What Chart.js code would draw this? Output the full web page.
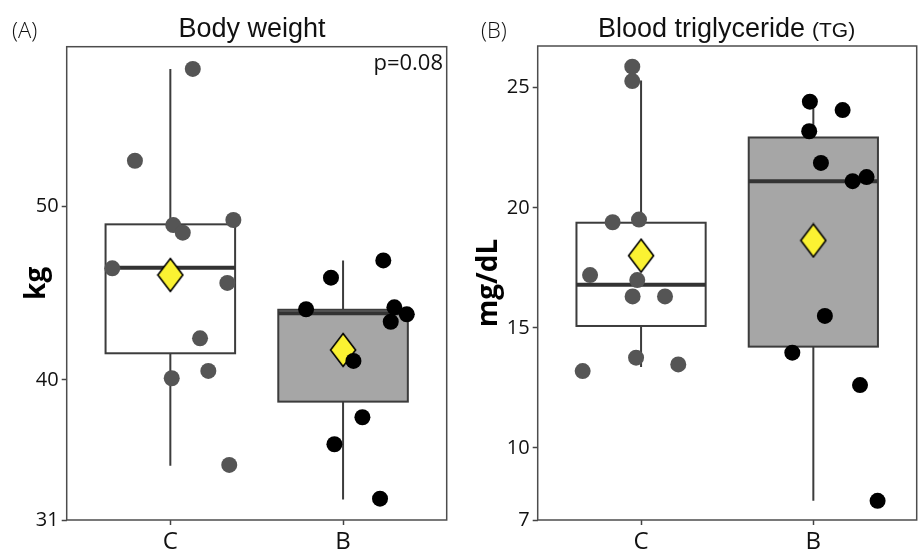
<!DOCTYPE html>
<html>
<head>
<meta charset="utf-8">
<script src="https://cdn.jsdelivr.net/npm/chart.js@4.4.1/dist/chart.umd.min.js"></script>
<style>
  body { margin: 0; background: #fff; }
  #wrap { position: relative; width: 920px; height: 555px; }
  canvas { position: absolute; top: 0; }
</style>
</head>
<body>
<div id="wrap">
  <canvas id="bw" width="460" height="555" style="left:0"></canvas>
  <canvas id="tg" width="460" height="555" style="left:460px"></canvas>
</div>
<script>
const groups = ["C", "B"];

// Body weight (kg), jitter is an offset from the group position
const bwC = [57.95, 52.65, 48.94, 48.5, 49.23, 46.44, 45.6, 42.4, 40.1, 40.52, 35.1];
const bwJitterC = [0.13, -0.205, 0.017, 0.072, 0.365, -0.336, 0.33, 0.172, 0.008, 0.22, 0.341];
const bwB = [45.9, 46.9, 44.08, 44.19, 43.79, 43.36, 41.1, 37.85, 36.29, 33.15];
const bwJitterB = [-0.07, 0.233, -0.214, 0.297, 0.369, 0.276, 0.06, 0.112, -0.05, 0.214];
const bwLow = [35.05, 33.1];
const bwQ1 = [41.54, 38.75];
const bwMedian = [46.48, 43.85];
const bwQ3 = [48.98, 44.05];
const bwHigh = [57.95, 46.9];
const bwMean = [46.06, 41.73];
const bwTickValues = [31.92, 40, 50];
const bwTickLabels = ["31", "40", "50"];

// Blood triglyceride (mg/dL)
const tgC = [25.88, 25.28, 19.4, 19.51, 17.2, 16.99, 16.31, 16.31, 13.76, 13.2, 13.48];
const tgJitterC = [-0.051, -0.051, -0.165, -0.012, -0.296, -0.022, -0.049, 0.139, -0.029, -0.339, 0.216];
const tgB = [24.42, 24.07, 23.19, 21.87, 21.11, 21.28, 15.5, 13.97, 12.62, 7.8];
const tgJitterB = [-0.02, 0.17, -0.024, 0.044, 0.228, 0.309, 0.067, -0.122, 0.271, 0.373];
const tgLow = [13.37, 7.8];
const tgQ1 = [15.08, 14.22];
const tgMedian = [16.8, 21.11];
const tgQ3 = [19.38, 22.93];
const tgHigh = [25.3, 24.42];
const tgMean = [18.01, 18.64];
const tgTickValues = [7, 10, 15, 20, 25];
const tgTickLabels = ["7", "10", "15", "20", "25"];

const tickFont = { family: "'Open Sans', 'Noto Sans', sans-serif", size: 20 };
const ink = "#111";

// Yellow mean diamond, taller than wide
const diamond = document.createElement("canvas");
diamond.width = 28;
diamond.height = 36;
(() => {
  const c = diamond.getContext("2d");
  c.beginPath();
  c.moveTo(14, 1.5);
  c.lineTo(26.5, 18);
  c.lineTo(14, 34.5);
  c.lineTo(1.5, 18);
  c.closePath();
  c.fillStyle = "#fbf232";
  c.fill();
  c.lineWidth = 1.6;
  c.strokeStyle = "#000";
  c.stroke();
})();

const points = (values, jitter, group) =>
  values.map((y, i) => ({ x: group + 1 + jitter[i], y }));

// Box, whiskers and panel frame, drawn under the points
const boxPlugin = {
  id: "boxes",
  beforeDatasetsDraw(chart, args, o) {
    const { ctx, chartArea: a, scales: { x, y } } = chart;
    ctx.save();
    o.q1.forEach((q1, i) => {
      const cx = x.getPixelForValue(i + 1);
      const left = x.getPixelForValue(i + 1 - o.width / 2);
      const right = x.getPixelForValue(i + 1 + o.width / 2);
      const top = y.getPixelForValue(o.q3[i]);
      const bottom = y.getPixelForValue(q1);

      ctx.strokeStyle = "#3c3c3c";
      ctx.lineWidth = 2;
      ctx.beginPath();
      ctx.moveTo(cx, y.getPixelForValue(o.high[i]));
      ctx.lineTo(cx, top);
      ctx.moveTo(cx, bottom);
      ctx.lineTo(cx, y.getPixelForValue(o.low[i]));
      ctx.stroke();

      ctx.fillStyle = o.fill[i];
      ctx.fillRect(left, top, right - left, bottom - top);
      ctx.strokeRect(left, top, right - left, bottom - top);

      const m = y.getPixelForValue(o.median[i]);
      ctx.strokeStyle = "#333";
      ctx.lineWidth = 4;
      ctx.beginPath();
      ctx.moveTo(left, m);
      ctx.lineTo(right, m);
      ctx.stroke();
    });

    ctx.strokeStyle = "#4d4d4d";
    ctx.lineWidth = 1.5;
    ctx.strokeRect(a.left, a.top, a.right - a.left, a.bottom - a.top);
    ctx.restore();
  },
};

// Panel tag, title and note
const textPlugin = {
  id: "panelText",
  afterDraw(chart, args, o) {
    const { ctx } = chart;
    ctx.save();
    ctx.fillStyle = ink;
    ctx.textBaseline = "alphabetic";
    ctx.textAlign = "left";

    ctx.font = "300 22px 'Open Sans', sans-serif";
    ctx.fillText(o.tag, o.tagX, 38);

    ctx.font = "27px 'Liberation Sans', Arial, sans-serif";
    const w1 = ctx.measureText(o.title).width;
    ctx.font = "21px 'Liberation Sans', Arial, sans-serif";
    const w2 = o.suffix ? ctx.measureText(o.suffix).width + 7 : 0;
    const x0 = o.titleCenter - (w1 + w2) / 2;
    ctx.font = "27px 'Liberation Sans', Arial, sans-serif";
    ctx.fillText(o.title, x0, 37);
    if (o.suffix) {
      ctx.font = "21px 'Liberation Sans', Arial, sans-serif";
      ctx.fillText(o.suffix, x0 + w1 + 7, 37);
    }

    if (o.note) {
      ctx.font = "22px 'Open Sans', sans-serif";
      ctx.textAlign = "right";
      ctx.fillText(o.note, o.noteX, 70);
    }
    ctx.restore();
  },
};

function makeChart(id, cfg) {
  return new Chart(document.getElementById(id), {
    type: "scatter",
    data: {
      datasets: [
        {
          data: points(cfg.c, cfg.jitterC, 0),
          backgroundColor: "#555555",
          borderWidth: 0,
          pointRadius: 8,
        },
        {
          data: points(cfg.b, cfg.jitterB, 1),
          backgroundColor: "#000000",
          borderWidth: 0,
          pointRadius: 8,
        },
        {
          data: cfg.mean.map((y, i) => ({ x: i + 1, y })),
          pointStyle: diamond,
          pointRadius: 14,
        },
      ],
    },
    options: {
      responsive: false,
      animation: false,
      events: [],
      layout: {
        autoPadding: false,
        padding: { top: cfg.top, right: cfg.right, left: 0, bottom: 0 },
      },
      scales: {
        x: {
          type: "linear",
          min: 0.4,
          max: 2.6,
          afterBuildTicks: (s) => {
            s.ticks = groups.map((g, i) => ({ value: i + 1 }));
          },
          afterFit: (s) => {
            s.height = 35;
          },
          ticks: {
            color: ink,
            padding: 3,
            font: { family: tickFont.family, size: 24 },
            callback: (v, i) => groups[i],
          },
          border: { display: false },
          grid: { drawOnChartArea: false, tickLength: 5, tickColor: "#444", tickWidth: 1.5 },
        },
        y: {
          min: cfg.min,
          max: cfg.max,
          afterBuildTicks: (s) => {
            s.ticks = cfg.tickValues.map((value) => ({ value }));
          },
          afterFit: (s) => {
            s.width = cfg.axisWidth;
          },
          ticks: {
            color: ink,
            padding: 3,
            font: tickFont,
            callback: (v, i) => cfg.tickLabels[i],
          },
          border: { display: false },
          grid: { drawOnChartArea: false, tickLength: 5, tickColor: "#444", tickWidth: 1.5 },
          title: {
            display: true,
            text: cfg.unit,
            color: "#000",
            padding: { top: cfg.unitPad, bottom: 0 },
            font: { family: "'Open Sans', sans-serif", size: 28, weight: "bold" },
          },
        },
      },
      plugins: {
        legend: { display: false },
        tooltip: { enabled: false },
        boxes: {
          width: 0.75,
          low: cfg.low,
          q1: cfg.q1,
          median: cfg.median,
          q3: cfg.q3,
          high: cfg.high,
          fill: ["#ffffff", "#a6a6a6"],
        },
        panelText: cfg.text,
      },
    },
    plugins: [boxPlugin, textPlugin],
  });
}

makeChart("bw", {
  c: bwC, jitterC: bwJitterC, b: bwB, jitterB: bwJitterB,
  low: bwLow, q1: bwQ1, median: bwMedian, q3: bwQ3, high: bwHigh, mean: bwMean,
  min: 31.92, max: 59.23, tickValues: bwTickValues, tickLabels: bwTickLabels,
  unit: "kg", unitPad: 20, axisWidth: 66.7, top: 46.7, right: 13.3,
  text: { tag: "(A)", tagX: 12, title: "Body weight", titleCenter: 252, note: "p=0.08", noteX: 443 },
});

makeChart("tg", {
  c: tgC, jitterC: tgJitterC, b: tgB, jitterB: tgJitterB,
  low: tgLow, q1: tgQ1, median: tgMedian, q3: tgQ3, high: tgHigh, mean: tgMean,
  min: 7, max: 26.74, tickValues: tgTickValues, tickLabels: tgTickLabels,
  unit: "mg/dL", unitPad: 12, axisWidth: 77.7, top: 46, right: 3.3,
  text: { tag: "(B)", tagX: 21, title: "Blood triglyceride", suffix: "(TG)", titleCenter: 266.5 },
});
</script>
</body>
</html>
